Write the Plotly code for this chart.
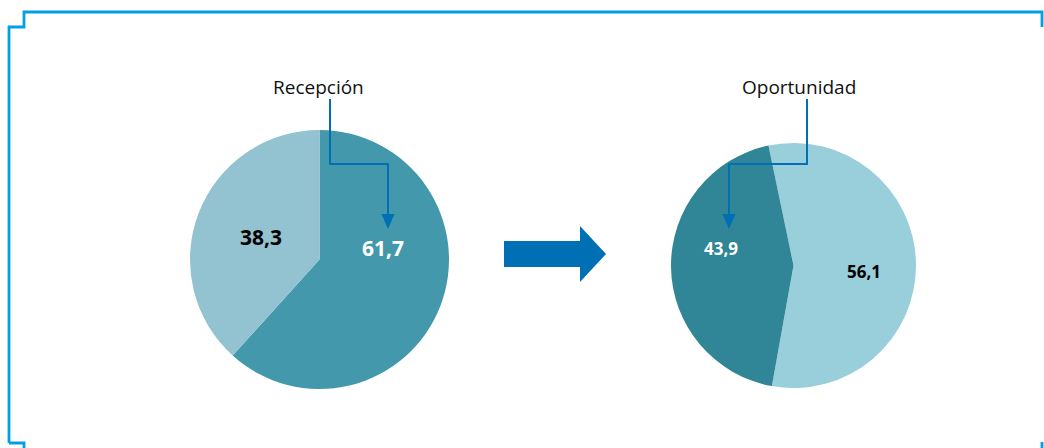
import plotly.graph_objects as go

W, H = 1044, 448

# ---- data ----
titles = ["Recepción", "Oportunidad"]
recepcion_labels = ["Sí", "No"]
recepcion_values = [61.7, 38.3]
oportunidad_labels = ["Sí", "No"]
oportunidad_values = [56.1, 43.9]

# ---- styles ----
c_left = ["#4399AB", "#93C3D0"]
c_right = ["#99CEDB", "#308597"]
frame_col = "#00A0E3"
arrow_col = "#0070B5"
font_fam = "Open Sans, Noto Sans, DejaVu Sans, sans-serif"


def dom(cx, cy, r):
    return dict(x=[(cx - r) / W, (cx + r) / W], y=[(H - cy - r) / H, (H - cy + r) / H])


def fmt(v):
    return f"{v:.1f}".replace(".", ",")


fig = go.Figure()
fig.add_trace(go.Pie(
    labels=recepcion_labels, values=recepcion_values, sort=False, direction="clockwise",
    rotation=0, marker=dict(colors=c_left, line=dict(width=0)), textinfo="none",
    hoverinfo="label+value", domain=dom(319.5, 259.5, 129.5), showlegend=False,
))
fig.add_trace(go.Pie(
    labels=oportunidad_labels, values=oportunidad_values, sort=False, direction="clockwise",
    rotation=-11.8, marker=dict(colors=c_right, line=dict(width=0)), textinfo="none",
    hoverinfo="label+value", domain=dom(793.5, 265.5, 122.5), showlegend=False,
))

shapes = []
# frame
shapes.append(dict(type="path", xref="x", yref="y", layer="above",
                   path="M 9 443 L 9 27 L 24 27 L 24 12 L 1042 12 L 1042 27",
                   line=dict(color=frame_col, width=2.8)))
shapes.append(dict(type="path", xref="x", yref="y", layer="above",
                   path="M 9 443 L 24 443 L 24 450",
                   line=dict(color=frame_col, width=2.8)))
shapes.append(dict(type="path", xref="x", yref="y", layer="above",
                   path="M 1042 442 L 1042 450",
                   line=dict(color=frame_col, width=2.8)))
# big arrow
shapes.append(dict(type="path", xref="x", yref="y", layer="above",
                   path="M 504 241 L 580 241 L 580 226 L 606 254 L 580 282 L 580 267 L 504 267 Z",
                   fillcolor=arrow_col, line=dict(width=0)))
# connectors
shapes.append(dict(type="path", xref="x", yref="y", layer="above",
                   path="M 330 99 L 330 164 L 388 164 L 388 216",
                   line=dict(color=arrow_col, width=2)))
shapes.append(dict(type="path", xref="x", yref="y", layer="above",
                   path="M 381.5 214 L 394.5 214 L 388 229 Z",
                   fillcolor=arrow_col, line=dict(width=0)))
shapes.append(dict(type="path", xref="x", yref="y", layer="above",
                   path="M 807 99 L 807 164 L 729 164 L 729 216",
                   line=dict(color=arrow_col, width=2)))
shapes.append(dict(type="path", xref="x", yref="y", layer="above",
                   path="M 722.5 214 L 735.5 214 L 729 229 Z",
                   fillcolor=arrow_col, line=dict(width=0)))

annotations = [
    dict(x=318, y=87, text=titles[0], font=dict(size=19, color="#111111", family=font_fam)),
    dict(x=799, y=87, text=titles[1], font=dict(size=19, color="#111111", family=font_fam)),
    dict(x=383, y=248, text=f"<b>{fmt(recepcion_values[0])}</b>", font=dict(size=21, color="white", family=font_fam)),
    dict(x=261, y=237, text=f"<b>{fmt(recepcion_values[1])}</b>", font=dict(size=21, color="black", family=font_fam)),
    dict(x=864, y=271, text=f"<b>{fmt(oportunidad_values[0])}</b>", font=dict(size=17, color="black", family=font_fam)),
    dict(x=721, y=248, text=f"<b>{fmt(oportunidad_values[1])}</b>", font=dict(size=17, color="white", family=font_fam)),
]
for a in annotations:
    a.update(xref="x", yref="y", showarrow=False, xanchor="center", yanchor="middle")

fig.update_layout(
    width=W, height=H, margin=dict(l=0, r=0, t=0, b=0),
    paper_bgcolor="white", plot_bgcolor="rgba(0,0,0,0)",
    xaxis=dict(range=[0, W], visible=False, fixedrange=True),
    yaxis=dict(range=[H, 0], visible=False, fixedrange=True),
    shapes=shapes, annotations=annotations, showlegend=False,
)
fig.write_html("out.html", config={"displayModeBar": False},
               post_script="document.body.style.margin='0';document.body.style.overflow='hidden';")
